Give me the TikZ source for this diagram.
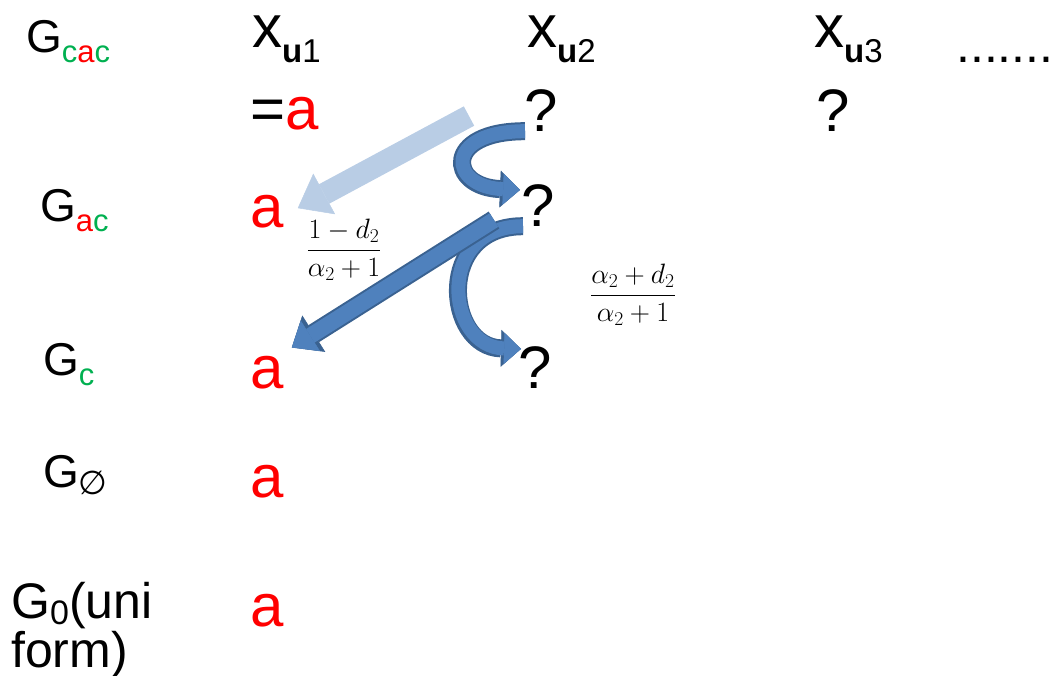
\RequirePackage{fix-cm}
\documentclass[tikz,border=0pt]{standalone}
\usepackage{fontspec}
\setmainfont{Liberation Sans}
\newfontfamily\symfont{DejaVu Sans}
\usetikzlibrary{arrows.meta,calc}
\definecolor{tgreen}{HTML}{00B050}
\definecolor{tred}{HTML}{FF0000}
\definecolor{palefill}{HTML}{B9CDE5}
\definecolor{darkfill}{HTML}{4F81BD}
\definecolor{darkedge}{HTML}{3A6291}
\newcommand\valsize{\fontsize{60}{66}\selectfont}
\newcommand\labsize{\fontsize{46}{50}\selectfont}
\newcommand\gsub[1]{\raisebox{-10pt}{\fontsize{31}{33}\selectfont #1}}
\newcommand\xsub[1]{\raisebox{-15pt}{\fontsize{33}{35}\selectfont #1}}
\tikzset{
  lab/.style={anchor=base west, inner sep=0pt, font=\labsize},
  val/.style={anchor=base west, inner sep=0pt, font=\valsize},
  reda/.style={val, text=tred},
  frac/.style={inner sep=0pt, font=\fontsize{28}{32}\selectfont},
  palearrow/.style={line width=22pt, draw=palefill, -{Triangle[length=30pt,width=46pt,line width=0.5pt]}},
  fatarrow/.style={line width=16pt, draw=darkfill, -{Triangle[length=22pt,width=36pt,line width=0.5pt]},
    preaction={draw=darkedge, line width=20pt, -{Triangle[length=26pt,width=43pt,line width=0.5pt]}}},
  bentarrow/.style={line width=14pt, draw=darkfill, -{Triangle[length=17pt,width=31pt,line width=0.5pt]},
    preaction={draw=darkedge, line width=18pt, -{Triangle[length=20pt,width=37pt,line width=0.5pt]}}}
}
\begin{document}
\begin{tikzpicture}[x=1pt, y=-1pt]
  \useasboundingbox (0,0) rectangle (1049,676);
  % row labels
  \node[lab] (gcac) at (26,53) {G\gsub{\textcolor{tgreen}{c}\textcolor{tred}{a}\textcolor{tgreen}{c}}};
  \node[lab] (gac) at (40,222) {G\gsub{\textcolor{tred}{a}\textcolor{tgreen}{c}}};
  \node[lab] (gc) at (43,375) {G\gsub{\textcolor{tgreen}{c}}};
  \node[lab] (gnull) at (43,487) {G\raisebox{-7pt}{\fontsize{33}{35}\symfont ∅}};
  \node[lab, font=\fontsize{50}{54}\selectfont] (gzero) at (11,618) {G\raisebox{-6pt}{\fontsize{34}{36}\selectfont 0}(uni};
  \node[lab, font=\fontsize{50}{54}\selectfont] (gform) at (11,667) {form)};
  % column heads
  \node[val] (xu1) at (252,48) {x\xsub{\textbf{u}1}};
  \node[val] (xu2) at (527,48) {x\xsub{\textbf{u}2}};
  \node[val] (xu3) at (814,48) {x\xsub{\textbf{u}3}};
  \node[val, font=\fontsize{50}{54}\selectfont] (more) at (956,63) {........};
  % values
  \node[val] (a2) at (250,130) {=\textcolor{tred}{a}};
  \node[val] (q2) at (524,132) {?};
  \node[val] (q23) at (816,132) {?};
  \node[reda] (a3) at (250,228) {a};
  \node[val] (q3) at (521,227) {?};
  \node[reda] (a4) at (250,388) {a};
  \node[val] (q4) at (518,388) {?};
  \node[reda] (a5) at (250,497) {a};
  \node[reda] (a6) at (250,626) {a};
  % probabilities
  \node[frac] (pstay) at (344,250) {$\displaystyle\frac{1-d_2}{\alpha_2+1}$};
  \node[frac] (pmove) at (633,295) {$\displaystyle\frac{\alpha_2+d_2}{\alpha_2+1}$};
  % arrows
  \draw[palearrow] ($(q2.west)+(-55,5)$) -- ($(a3.east)+(14,-4)$);
  \draw[bentarrow] ($(q2.south west)+(1,-1)$) .. controls +(-82,0) and +(-72,-3) .. ($(q3.north west)+(-1,5)$);
  \draw[bentarrow] ($(q3.south west)+(2,-1)$) .. controls +(-88,0) and +(-76,-2) .. ($(q4.north west)+(3,3)$);
  \draw[fatarrow] ($(q3.west)+(-27,14)$) -- ($(a4.north east)+(8,-8)$);
\end{tikzpicture}
\end{document}
